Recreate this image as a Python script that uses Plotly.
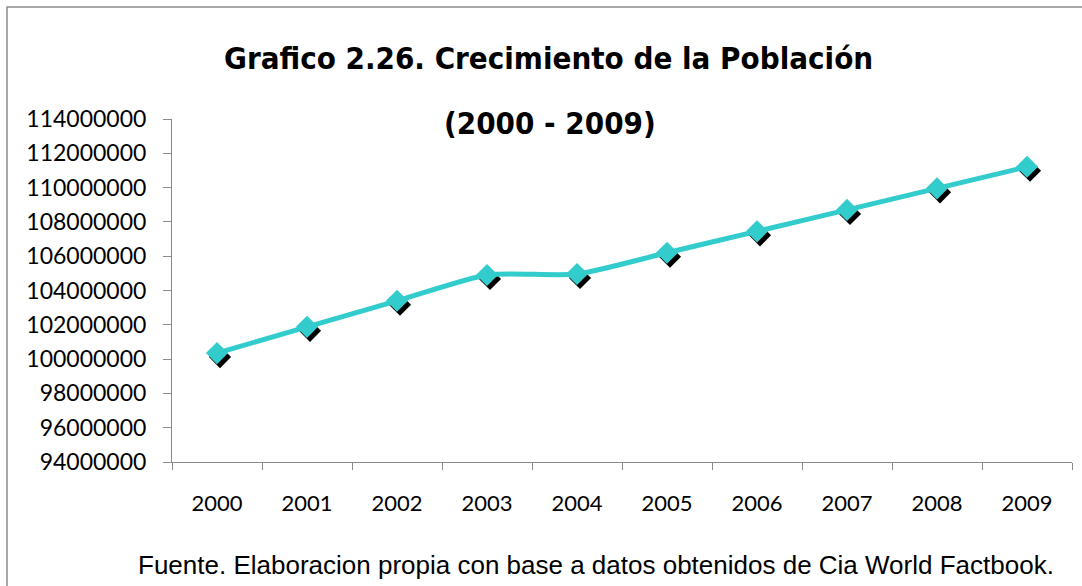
import plotly.graph_objects as go

years = ["2000", "2001", "2002", "2003", "2004", "2005", "2006", "2007", "2008", "2009"]
population = [100349766, 101879171, 103400165, 104907991, 104959594,
              106202903, 107449525, 108700891, 109955400, 111211789]
title_line1 = "Grafico 2.26. Crecimiento de la Población"
title_line2 = "(2000 - 2009)"
source_note = "Fuente. Elaboracion propia con base a datos obtenidos de Cia World Factbook."

W, H = 1082, 586
ML, MR, MT, MB = 172, 7, 119, 120
PW = W - ML - MR
PH = H - MT - MB
SX, SY = 3, 4  # shadow offset in px

def px_x(px):
    return (px - ML) / PW

def px_y(py):
    return (H - MB - py) / PH

fig = go.Figure()

# shadow markers (drawn first, on offset hidden axes)
fig.add_trace(go.Scatter(
    x=years, y=population, mode="markers",
    marker=dict(symbol="diamond", size=17, color="black"),
    xaxis="x", yaxis="y", hoverinfo="skip", showlegend=False,
))
# main line
fig.add_trace(go.Scatter(
    x=years, y=population, mode="lines+markers",
    line=dict(color="#33CCCC", width=5, shape="spline", smoothing=0.6),
    marker=dict(symbol="diamond", size=17, color="#33CCCC"),
    xaxis="x2", yaxis="y2", showlegend=False,
))

title_font = "DejaVu Sans Condensed, Roboto Condensed, Liberation Sans Narrow, Arial Narrow, Roboto, sans-serif"

yr = [94000000, 114000000]
fig.update_layout(
    width=W, height=H,
    margin=dict(l=ML, r=MR, t=MT, b=MB),
    paper_bgcolor="white", plot_bgcolor="rgba(0,0,0,0)",
    showlegend=False,
    xaxis=dict(type="category", range=[-0.5, 9.5], domain=[SX / PW, 1],
               visible=False, fixedrange=True),
    yaxis=dict(range=yr, domain=[0, 1 - SY / PH], visible=False, fixedrange=True),
    xaxis2=dict(type="category", range=[-0.5, 9.5], domain=[0, 1 - SX / PW],
                anchor="y2", showline=True, linecolor="#8A8A8A", linewidth=1,
                ticks="outside", ticklen=7, tickcolor="#8A8A8A", tickson="boundaries",
                showgrid=False, zeroline=False, ticklabelstandoff=22,
                tickfont=dict(family="Lato", size=22, color="black")),
    yaxis2=dict(range=yr, domain=[SY / PH, 1], anchor="x2",
                showline=True, linecolor="#8A8A8A", linewidth=1,
                ticks="outside", ticklen=8, tickcolor="#8A8A8A",
                dtick=2000000, tick0=94000000, tickformat="d",
                showgrid=False, zeroline=False, ticklabelstandoff=12,
                tickfont=dict(family="Lato", size=23, color="black")),
    shapes=[dict(type="rect", xref="paper", yref="paper",
                 x0=px_x(7), x1=px_x(1092), y0=px_y(600), y1=px_y(7),
                 line=dict(color="#8C8C8C", width=1.5), fillcolor="rgba(0,0,0,0)",
                 layer="below")],
    annotations=[
        dict(text="<b>" + title_line1 + "</b>", xref="paper", yref="paper",
             x=px_x(548), y=px_y(58), xanchor="center", yanchor="middle",
             showarrow=False,
             font=dict(family=title_font, size=31, color="black")),
        dict(text="<b>" + title_line2 + "</b>", xref="paper", yref="paper",
             x=px_x(550), y=px_y(123), xanchor="center", yanchor="middle",
             showarrow=False,
             font=dict(family=title_font, size=31, color="black")),
        dict(text=source_note, xref="paper", yref="paper",
             x=px_x(596), y=px_y(565), xanchor="center", yanchor="middle",
             showarrow=False,
             font=dict(family="Liberation Sans", size=26, color="black")),
    ],
)

fig.write_html("out.html", config={"displayModeBar": False},
               post_script="document.body.style.margin='0';")
